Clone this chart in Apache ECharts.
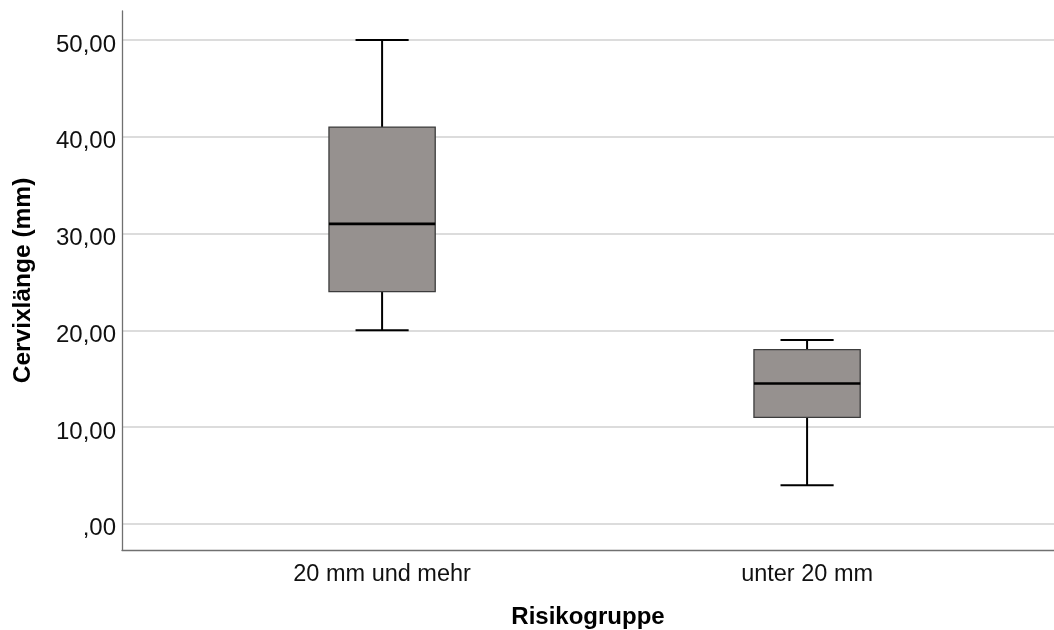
<!DOCTYPE html>
<html>
<head>
<meta charset="utf-8">
<script src="https://cdn.jsdelivr.net/npm/echarts@6/dist/echarts.min.js"></script>
<style>
  html, body { margin: 0; padding: 0; background: #ffffff; }
  #chart { width: 1054px; height: 630px; }
</style>
</head>
<body>
<div id="chart"></div>
<script>
// Risk groups on the horizontal axis
const categories = ['20 mm und mehr', 'unter 20 mm'];
// Five-number summaries per group: minimum, Q1, median, Q3, maximum (mm)
const whiskerLow  = [20, 4];
const quartile1   = [24, 11];
const medians     = [31, 14.5];
const quartile3   = [41, 18];
const whiskerHigh = [50, 19];
// Values that carry a labelled gridline
const yTickValues = [0, 10, 20, 30, 40, 50];

const boxData = categories.map((c, i) => [
  i, whiskerLow[i], quartile1[i], medians[i], quartile3[i], whiskerHigh[i]
]);

const FONT = "'Liberation Sans', Arial, sans-serif";

function fmtDe(v) {
  const s = v.toFixed(2).replace('.', ',');
  return v === 0 ? ',00' : s;
}

const chart = echarts.init(document.getElementById('chart'), null, { renderer: 'canvas' });

chart.setOption({
  backgroundColor: '#ffffff',
  animation: false,
  grid: { left: 122, right: 0, top: 11, bottom: 80, containLabel: false, outerBoundsMode: 'none' },
  xAxis: {
    type: 'value',
    min: -0.612,
    max: 1.581,
    name: 'Risikogruppe',
    nameLocation: 'middle',
    nameGap: 55,
    nameTextStyle: { fontFamily: FONT, fontSize: 24, fontWeight: 'bold', color: '#000' },
    axisLine: { show: true, onZero: false, lineStyle: { color: '#707070', width: 1.3 } },
    axisTick: { show: false },
    splitLine: { show: false },
    axisLabel: {
      margin: 13,
      fontFamily: FONT,
      fontSize: 23.5,
      color: '#111',
      showMinLabel: false,
      showMaxLabel: false,
      formatter: v => (Number.isInteger(v) && categories[v] !== undefined) ? categories[v] : ''
    }
  },
  yAxis: {
    type: 'value',
    min: -2.7,
    max: 53,
    name: 'Cervixlänge (mm)',
    nameLocation: 'middle',
    nameRotate: 90,
    nameGap: 86,
    nameTextStyle: { fontFamily: FONT, fontSize: 24.5, fontWeight: 'bold', color: '#000' },
    axisLine: { show: true, onZero: false, lineStyle: { color: '#707070', width: 1.3 } },
    axisTick: { show: false },
    splitLine: {
      show: true,
      showMinLine: false,
      showMaxLine: false,
      lineStyle: { color: '#d0d0d0', width: 1.6 }
    },
    axisLabel: {
      margin: 6,
      fontFamily: FONT,
      fontSize: 24,
      color: '#111',
      verticalAlign: 'top',
      lineHeight: 10,
      showMinLabel: false,
      showMaxLabel: false,
      formatter: v => yTickValues.indexOf(v) >= 0 ? fmtDe(v) : ''
    }
  },
  series: [{
    type: 'custom',
    data: boxData,
    encode: { x: 0, y: [1, 2, 3, 4, 5] },
    renderItem: function (params, api) {
      const x = api.value(0);
      const pLow = api.coord([x, api.value(1)]);
      const pQ1 = api.coord([x, api.value(2)]);
      const pMed = api.coord([x, api.value(3)]);
      const pQ3 = api.coord([x, api.value(4)]);
      const pHigh = api.coord([x, api.value(5)]);
      const band = api.size([1, 0])[0];
      const half = band * 0.125;
      const cap = half / 2;
      const cx = pMed[0];
      const stroke = { stroke: '#000', lineWidth: 2 };
      return {
        type: 'group',
        children: [
          { type: 'line', shape: { x1: cx, y1: pHigh[1], x2: cx, y2: pQ3[1] }, style: stroke },
          { type: 'line', shape: { x1: cx, y1: pQ1[1], x2: cx, y2: pLow[1] }, style: stroke },
          { type: 'line', shape: { x1: cx - cap, y1: pHigh[1], x2: cx + cap, y2: pHigh[1] }, style: stroke },
          { type: 'line', shape: { x1: cx - cap, y1: pLow[1], x2: cx + cap, y2: pLow[1] }, style: stroke },
          {
            type: 'rect',
            shape: { x: cx - half, y: pQ3[1], width: half * 2, height: pQ1[1] - pQ3[1] },
            style: { fill: '#96918f', stroke: '#3c3c3c', lineWidth: 1.3 }
          },
          { type: 'line', shape: { x1: cx - half, y1: pMed[1], x2: cx + half, y2: pMed[1] }, style: { stroke: '#000', lineWidth: 2.6 } }
        ]
      };
    }
  }]
});
</script>
</body>
</html>
